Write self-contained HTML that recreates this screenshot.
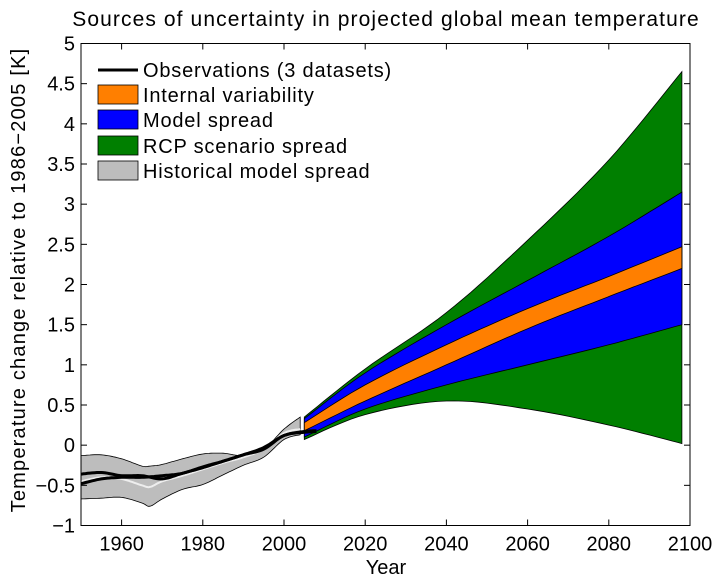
<!DOCTYPE html>
<html><head><meta charset="utf-8"><style>body{margin:0;background:#fff}svg{display:block;font-family:"Liberation Sans",sans-serif}</style></head>
<body>
<svg id="c" width="720" height="579" viewBox="0 0 720 579"></svg>
<script>
const histYears=[1950,1955,1960,1965,1967,1970,1975,1980,1985,1990,1995,2000,2004];
const histTop=[-0.13,-0.12,-0.17,-0.26,-0.26,-0.24,-0.17,-0.11,-0.1,-0.13,-0.05,0.2,0.35];
const histBot=[-0.67,-0.66,-0.65,-0.72,-0.76,-0.67,-0.55,-0.49,-0.37,-0.25,-0.15,0.07,0.13];
const histMean=[-0.45,-0.4,-0.42,-0.5,-0.52,-0.45,-0.38,-0.3,-0.22,-0.15,-0.05,0.15,0.2];
const obsYears=[1950,1955,1960,1965,1970,1975,1980,1985,1990,1995,2000,2005,2008];
const obs1=[-0.36,-0.34,-0.38,-0.38,-0.42,-0.35,-0.28,-0.2,-0.12,-0.03,0.12,0.17,0.18];
const obs2=[-0.48,-0.42,-0.4,-0.4,-0.38,-0.35,-0.27,-0.2,-0.12,-0.05,0.12,0.16,0.17];
const projYears=[2005,2020,2040,2060,2080,2098];
const greenTop=[0.35,0.95,1.65,2.55,3.55,4.65];
const blueTop=[0.33,0.9,1.5,2.05,2.6,3.15];
const orangeTop=[0.28,0.75,1.25,1.7,2.1,2.47];
const orangeBot=[0.18,0.55,1.0,1.45,1.85,2.2];
const blueBot=[0.1,0.45,0.75,1.0,1.25,1.5];
const greenBot=[0.07,0.38,0.55,0.45,0.25,0.02];
const xTicks=[1960,1980,2000,2020,2040,2060,2080,2100];
const yTicks=[-1,-0.5,0,0.5,1,1.5,2,2.5,3,3.5,4,4.5,5];
const L=81,R=690,T=43.5,B=525.5;
const X=v=>L+(v-1950)/150*(R-L), Y=v=>B-(v+1)/6*(B-T);
const s=document.getElementById('c'),NS='http://www.w3.org/2000/svg';
function mk(t,a,txt){const e=document.createElementNS(NS,t);for(const k in a)e.setAttribute(k,a[k]);if(txt!=null)e.textContent=txt;s.appendChild(e);return e;}
function smooth(xs,ys){
 let p=[];for(let i=0;i<xs.length-1;i++){const x0=xs[Math.max(i-1,0)],y0=ys[Math.max(i-1,0)],x1=xs[i],y1=ys[i],x2=xs[i+1],y2=ys[i+1],x3=xs[Math.min(i+2,xs.length-1)],y3=ys[Math.min(i+2,ys.length-1)];
 for(let t=0;t<1;t+=0.1){const t2=t*t,t3=t2*t;const f=(a,b,c,d)=>0.5*(2*b+(-a+c)*t+(2*a-5*b+4*c-d)*t2+(-a+3*b-3*c+d)*t3);p.push([X(f(x0,x1,x2,x3)),Y(f(y0,y1,y2,y3))]);}}
 p.push([X(xs[xs.length-1]),Y(ys[ys.length-1])]);return p;}
function band(xs,top,bot,fill,name){const a=smooth(xs,top),b=smooth(xs,bot).reverse();const d='M'+a.concat(b).map(q=>q[0].toFixed(1)+','+q[1].toFixed(1)).join('L')+'Z';const e=mk('path',{d,fill,stroke:'#000','stroke-width':0.8});}
function line(xs,ys,st,w,name){const d='M'+smooth(xs,ys).map(q=>q[0].toFixed(1)+','+q[1].toFixed(1)).join('L');const e=mk('path',{d,fill:'none',stroke:st,'stroke-width':w});}
band(histYears,histTop,histBot,'#bdbdbd','historical-model-spread');
line(histYears,histMean,'#eee',2,'historical-model-mean');
band(projYears,greenTop,greenBot,'#007f00','rcp-scenario-spread');
band(projYears,blueTop,blueBot,'#0000ff','model-spread');
band(projYears,orangeTop,orangeBot,'#ff7f00','internal-variability');
line(obsYears,obs1,'#000',3,'observations-1');
line(obsYears,obs2,'#000',3,'observations-2');
mk('rect',{x:L,y:T,width:R-L,height:B-T,fill:'none',stroke:'#000','stroke-width':1,});
xTicks.forEach(v=>{const x=X(v);mk('line',{x1:x,x2:x,y1:B,y2:B-6,stroke:'#000'});mk('line',{x1:x,x2:x,y1:T,y2:T+6,stroke:'#000'});const t=mk('text',{x:x,y:B+25,'text-anchor':'middle','font-size':20},v);});
yTicks.forEach(v=>{const y=Y(v);mk('line',{x1:L,x2:L+6,y1:y,y2:y,stroke:'#000'});mk('line',{x1:R,x2:R-6,y1:y,y2:y,stroke:'#000'});const t=mk('text',{x:L-6,y:y+7,'text-anchor':'end','font-size':20},String(v).replace('-','\u2212'));});
mk('text',{x:386,y:26,'text-anchor':'middle','font-size':21,'letter-spacing':1.1,},'Sources of uncertainty in projected global mean temperature');
mk('text',{x:386,y:574,'text-anchor':'middle','font-size':20,},'Year');
mk('text',{x:0,y:0,'text-anchor':'middle','font-size':20,'letter-spacing':1.2,transform:'translate(25,280) rotate(-90)',},'Temperature change relative to 1986\u22122005 [K]');
mk('line',{x1:98,x2:138,y1:70,y2:70,stroke:'#000','stroke-width':3,});
mk('text',{x:143,y:77,'font-size':20,'letter-spacing':0.8,},'Observations (3 datasets)');
[['#ff7f00','Internal variability',85,'legend-internal-variability'],['#0000ff','Model spread',110,'legend-model-spread'],['#007f00','RCP scenario spread',136,'legend-rcp-scenario-spread'],['#bdbdbd','Historical model spread',161,'legend-historical-model-spread']].forEach(a=>{
 mk('rect',{x:98,y:a[2],width:40,height:19,fill:a[0],stroke:'#000','stroke-width':0.8,});
 mk('text',{x:143,y:a[2]+17,'font-size':20,'letter-spacing':0.8,},a[1]);});
</script>
</body></html>
